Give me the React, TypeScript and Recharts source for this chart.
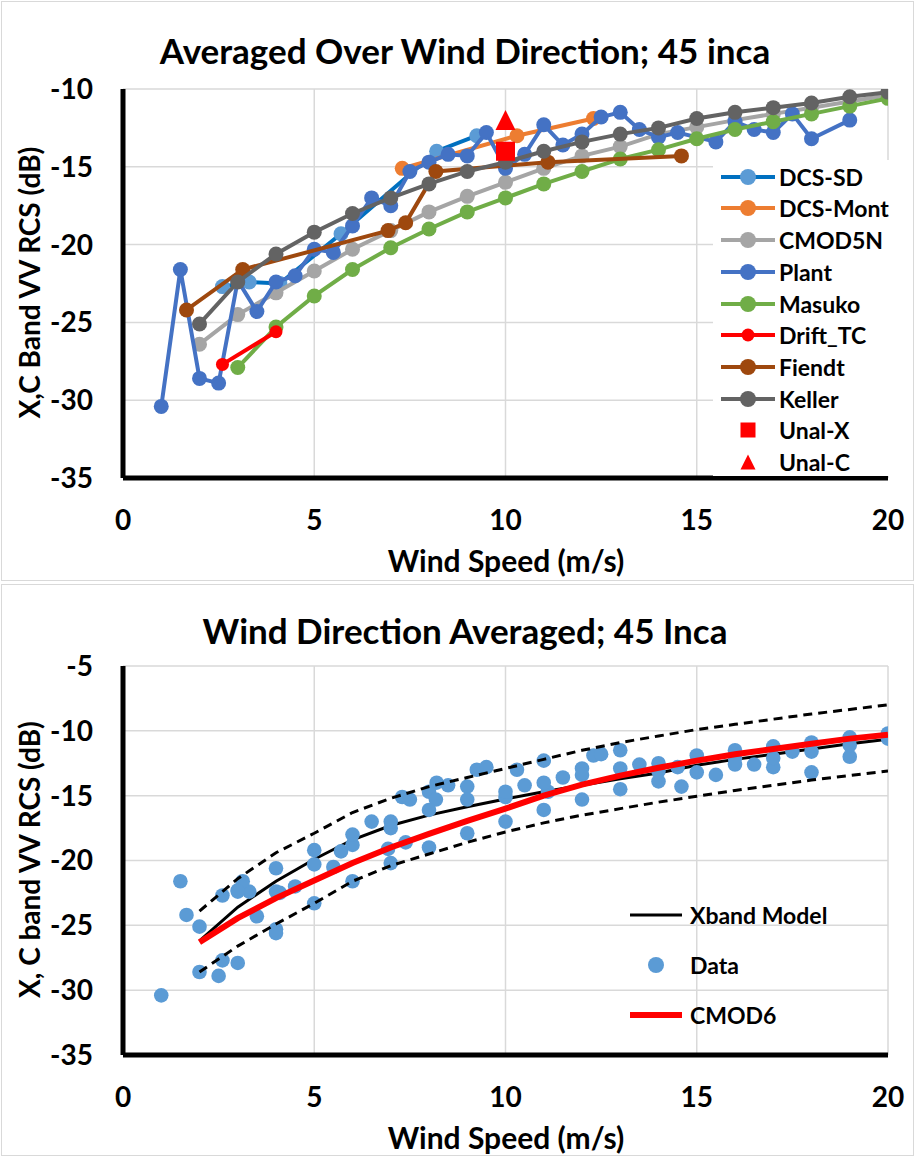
import React from 'react';
import { ScatterChart, Scatter, XAxis, YAxis, CartesianGrid } from 'recharts';

type Pt = [number, number];

// wind speed (m/s), VV RCS (dB)
const dcsSd: Pt[] = [[2.6, -22.7], [3.3, -22.4], [4.1, -22.5], [5.7, -19.3], [8.2, -14.0], [9.25, -13.0]];
const dcsMont: Pt[] = [[7.3, -15.1], [10.3, -13.0], [12.3, -11.9]];
const cmod5n: Pt[] = [
  [2, -26.4], [3, -24.5], [4, -23.1], [5, -21.7], [6, -20.3], [7, -19.1], [8, -17.9], [9, -16.9], [10, -16.0],
  [11, -15.1], [12, -14.3], [13, -13.7], [14, -12.9], [15, -12.45], [16, -12.0], [17, -11.6], [18, -11.2], [19, -10.8], [20, -10.4]
];
const plant: Pt[] = [
  [1, -30.4], [1.5, -21.6], [2, -28.6], [2.5, -28.9], [3, -22.3], [3.5, -24.3], [4, -22.4], [4.5, -22.0], [5, -20.3],
  [5.5, -20.5], [6, -18.8], [6.5, -17.0], [7, -17.5], [7.5, -15.3], [8, -14.7], [8.5, -14.2], [9, -14.3], [9.5, -12.8],
  [10, -15.1], [10.5, -14.2], [11, -12.3], [11.5, -13.6], [12, -12.9], [12.5, -11.8], [13, -11.5], [13.5, -12.6],
  [14, -13.1], [14.5, -12.8], [15.5, -13.4], [16, -12.1], [16.5, -12.6], [17, -12.8], [17.5, -11.6], [18, -13.2], [19, -12.0]
];
const masuko: Pt[] = [
  [3, -27.9], [4, -25.3], [5, -23.3], [6, -21.6], [7, -20.2], [8, -19.0], [9, -17.9], [10, -17.0], [11, -16.1],
  [12, -15.3], [13, -14.5], [14, -13.9], [15, -13.2], [16, -12.6], [17, -12.1], [18, -11.6], [19, -11.1], [20, -10.6]
];
const driftTc: Pt[] = [[2.6, -27.7], [4, -25.6]];
const fiendt: Pt[] = [[1.66, -24.2], [3.13, -21.6], [6.93, -19.1], [7.39, -18.6], [8.18, -15.3], [11.11, -14.7], [14.6, -14.3]];
const keller: Pt[] = [
  [2, -25.1], [3, -22.4], [4, -20.6], [5, -19.2], [6, -18.0], [7, -17.0], [8, -16.1], [9, -15.3], [10, -14.7], [11, -14.0],
  [12, -13.4], [13, -12.9], [14, -12.5], [15, -11.9], [16, -11.5], [17, -11.2], [18, -10.9], [19, -10.5], [20, -10.2]
];
const unalX: Pt[] = [[10, -14.0]];
const unalC: Pt[] = [[10, -12.0]];

// models for the lower panel
const xbandModel: Pt[] = [
  [2, -26.2], [3, -23.6], [4, -21.6], [5, -19.9], [6, -18.4], [7, -17.3], [8, -16.5], [9, -15.85], [10, -15.25], [11, -14.7],
  [12, -14.2], [13, -13.7], [14, -13.25], [15, -12.65], [16, -12.2], [17, -11.8], [18, -11.4], [19, -11.0], [20, -10.65]
];
const cmod6: Pt[] = [
  [2, -26.3], [3, -24.45], [4, -22.9], [5, -21.55], [6, -20.2], [7, -19.0], [8, -17.95], [9, -16.95], [10, -16.0], [11, -15.0],
  [12, -14.15], [13, -13.45], [14, -12.85], [15, -12.3], [16, -11.8], [17, -11.4], [18, -11.0], [19, -10.6], [20, -10.3]
];
const upperBound: Pt[] = [
  [2, -23.9], [3, -21.4], [4, -19.4], [5, -17.9], [6, -16.3], [7, -15.2], [8, -14.3], [9, -13.6], [10, -12.9], [11, -12.2],
  [12, -11.5], [13, -10.9], [14, -10.4], [15, -9.9], [16, -9.5], [17, -9.1], [18, -8.7], [19, -8.35], [20, -8.0]
];
const lowerBound: Pt[] = [
  [2, -28.6], [3, -26.6], [4, -24.9], [5, -23.3], [6, -21.6], [7, -20.4], [8, -19.5], [9, -18.6], [10, -17.8], [11, -17.1],
  [12, -16.5], [13, -16.0], [14, -15.5], [15, -15.05], [16, -14.6], [17, -14.2], [18, -13.8], [19, -13.45], [20, -13.1]
];

const xTicks = [0, 5, 10, 15, 20];
const yTicksTop = [-35, -30, -25, -20, -15, -10];
const yTicksBottom = [-35, -30, -25, -20, -15, -10, -5];

const FONT = 'Lato, "Open Sans", sans-serif';
const GRID = '#D9D9D9';

const toXY = (pts: Pt[]) => pts.map(([x, y]) => ({ x, y }));

type Marker = 'circle' | 'square' | 'triangle';
interface SeriesDef {
  name: string;
  data: Pt[];
  lineColor?: string;
  markColor: string;
  r: number;
  marker: Marker;
}

const topSeries: SeriesDef[] = [
  { name: 'DCS-SD', data: dcsSd, lineColor: '#0070C0', markColor: '#5B9BD5', r: 7.5, marker: 'circle' },
  { name: 'DCS-Mont', data: dcsMont, lineColor: '#ED7D31', markColor: '#ED7D31', r: 7.5, marker: 'circle' },
  { name: 'CMOD5N', data: cmod5n, lineColor: '#A5A5A5', markColor: '#A5A5A5', r: 7.5, marker: 'circle' },
  { name: 'Plant', data: plant, lineColor: '#4472C4', markColor: '#4472C4', r: 7.5, marker: 'circle' },
  { name: 'Masuko', data: masuko, lineColor: '#70AD47', markColor: '#70AD47', r: 7.5, marker: 'circle' },
  { name: 'Drift_TC', data: driftTc, lineColor: '#FF0000', markColor: '#FF0000', r: 6.5, marker: 'circle' },
  { name: 'Fiendt', data: fiendt, lineColor: '#9E480E', markColor: '#9E480E', r: 7.5, marker: 'circle' },
  { name: 'Keller', data: keller, lineColor: '#636363', markColor: '#636363', r: 7.5, marker: 'circle' },
  { name: 'Unal-X', data: unalX, markColor: '#FF0000', r: 9.5, marker: 'square' },
  { name: 'Unal-C', data: unalC, markColor: '#FF0000', r: 10, marker: 'triangle' },
];

// every measurement set shown as blue dots in the lower panel
const allData: Pt[] = [...dcsSd, ...dcsMont, ...plant, ...masuko, ...driftTc, ...fiendt, ...keller];

const drawMarker = (kind: Marker, color: string, r: number, cx: number, cy: number) => {
  if (kind === 'square') return <rect x={cx - r} y={cy - r} width={r * 2} height={r * 2} fill={color} />;
  if (kind === 'triangle')
    return <polygon points={`${cx},${cy - r} ${cx + r},${cy + r} ${cx - r},${cy + r}`} fill={color} />;
  return <circle cx={cx} cy={cy} r={r} fill={color} />;
};

const shapeFor = (kind: Marker, color: string, r: number) => (p: any) => drawMarker(kind, color, r, p.cx, p.cy);
const noShape = () => <g />;

const tickStyle = { fill: '#000', fontFamily: FONT, fontWeight: 700, fontSize: 28 };
const textStyle: React.CSSProperties = { position: 'absolute', fontFamily: FONT, fontWeight: 700, color: '#000', whiteSpace: 'nowrap' };

function Frame({ top, height }: { top: number; height: number }) {
  return <div style={{ position: 'absolute', left: 1, top, width: 911, height, border: `1.5px solid ${GRID}` }} />;
}

function CenterText({ text, cx, cy, size, rotate }: { text: string; cx: number; cy: number; size: number; rotate?: boolean }) {
  const w = 700;
  const h = size * 1.4;
  return (
    <div
      style={{
        ...textStyle,
        left: cx - w / 2,
        top: cy - h / 2,
        width: w,
        height: h,
        lineHeight: `${h}px`,
        fontSize: size,
        textAlign: 'center',
        transform: rotate ? 'rotate(-90deg)' : undefined,
      }}
    >
      {text}
    </div>
  );
}

const chartMargin = { top: 89, right: 27, bottom: 42, left: 43 };

export default function App() {
  return (
    <div style={{ position: 'absolute', left: 0, top: 0, width: 915, height: 1157, background: '#fff', overflow: 'hidden' }}>
      <Frame top={1} height={578} />
      <Frame top={584} height={570} />

      {/* upper panel */}
      <div style={{ position: 'absolute', left: 0, top: 0 }}>
        <ScatterChart width={915} height={580} margin={chartMargin}>
          <CartesianGrid stroke={GRID} strokeWidth={1.5} />
          <XAxis type="number" dataKey="x" domain={[0, 20]} ticks={xTicks} allowDataOverflow height={60}
            axisLine={{ stroke: '#000', strokeWidth: 5 }} tickLine={false} tickSize={0} tickMargin={32} tick={tickStyle} />
          <YAxis type="number" dataKey="y" domain={[-35, -10]} ticks={yTicksTop} allowDataOverflow width={80}
            axisLine={{ stroke: '#000', strokeWidth: 5 }} tickLine={false} tickSize={0} tickMargin={30} tick={tickStyle} />
          {topSeries.map((s) => (
            <Scatter
              key={s.name}
              name={s.name}
              data={toXY(s.data)}
              isAnimationActive={false}
              line={s.lineColor ? { stroke: s.lineColor, strokeWidth: 4 } : false}
              lineType="joint"
              shape={shapeFor(s.marker, s.markColor, s.r)}
            />
          ))}
        </ScatterChart>
      </div>

      {/* upper legend */}
      <div style={{ position: 'absolute', left: 713, top: 160, width: 176, height: 316, background: '#fff' }}>
        {topSeries.map((s, i) => (
          <div key={s.name} style={{ position: 'absolute', left: 0, top: 0.7 + i * 31.7, height: 32, display: 'flex', alignItems: 'center', whiteSpace: 'nowrap' }}>
            <svg width={64} height={32}>
              {s.lineColor && <line x1={8} y1={16} x2={62} y2={16} stroke={s.lineColor} strokeWidth={4} />}
              {drawMarker(s.marker, s.markColor, s.marker === 'circle' ? (s.r === 7.5 ? 8 : 6.5) : 7.5, 35, 16)}
            </svg>
            <span style={{ fontFamily: FONT, fontWeight: 700, fontSize: 23, marginLeft: 2 }}>{s.name}</span>
          </div>
        ))}
      </div>

      <CenterText text="Averaged Over Wind Direction; 45 inca" cx={465} cy={50} size={35} />
      <CenterText text="X,C Band VV RCS (dB)" cx={30} cy={283} size={28} rotate />
      <CenterText text="Wind Speed (m/s)" cx={506} cy={560} size={30} />

      {/* lower panel */}
      <div style={{ position: 'absolute', left: 0, top: 577 }}>
        <ScatterChart width={915} height={580} margin={chartMargin}>
          <CartesianGrid stroke={GRID} strokeWidth={1.5} />
          <XAxis type="number" dataKey="x" domain={[0, 20]} ticks={xTicks} allowDataOverflow height={60}
            axisLine={{ stroke: '#000', strokeWidth: 5 }} tickLine={false} tickSize={0} tickMargin={32} tick={tickStyle} />
          <YAxis type="number" dataKey="y" domain={[-35, -5]} ticks={yTicksBottom} allowDataOverflow width={80}
            axisLine={{ stroke: '#000', strokeWidth: 5 }} tickLine={false} tickSize={0} tickMargin={30} tick={tickStyle} />
          <Scatter name="Xband Model" data={toXY(xbandModel)} isAnimationActive={false}
            line={{ stroke: '#000', strokeWidth: 3 }} lineType="joint" shape={noShape} />
          <Scatter name="Data" data={toXY(allData)} isAnimationActive={false}
            shape={shapeFor('circle', '#5B9BD5', 7.3)} />
          <Scatter name="CMOD6" data={toXY(cmod6)} isAnimationActive={false}
            line={{ stroke: '#FF0000', strokeWidth: 6 }} lineType="joint" shape={noShape} />
          <Scatter name="upper" data={toXY(upperBound)} isAnimationActive={false}
            line={{ stroke: '#000', strokeWidth: 3, strokeDasharray: '9 6' }} lineType="joint" shape={noShape} />
          <Scatter name="lower" data={toXY(lowerBound)} isAnimationActive={false}
            line={{ stroke: '#000', strokeWidth: 3, strokeDasharray: '9 6' }} lineType="joint" shape={noShape} />
        </ScatterChart>
      </div>

      {/* lower legend */}
      <div style={{ position: 'absolute', left: 620, top: 890, width: 230, height: 150 }}>
        {[
          { name: 'Xband Model', kind: 'line', color: '#000', w: 3 },
          { name: 'Data', kind: 'dot', color: '#5B9BD5', w: 0 },
          { name: 'CMOD6', kind: 'line', color: '#FF0000', w: 6 },
        ].map((e, i) => (
          <div key={e.name} style={{ position: 'absolute', left: 0, top: 9 + i * 50, height: 32, display: 'flex', alignItems: 'center', whiteSpace: 'nowrap' }}>
            <svg width={68} height={32}>
              {e.kind === 'line' ? (
                <line x1={10} y1={16} x2={62} y2={16} stroke={e.color} strokeWidth={e.w} />
              ) : (
                <circle cx={36} cy={16} r={8} fill={e.color} />
              )}
            </svg>
            <span style={{ fontFamily: FONT, fontWeight: 700, fontSize: 23, marginLeft: 2 }}>{e.name}</span>
          </div>
        ))}
      </div>

      <CenterText text="Wind Direction Averaged; 45 Inca" cx={465} cy={630} size={35} />
      <CenterText text="X, C band VV RCS (dB)" cx={30} cy={860} size={28} rotate />
      <CenterText text="Wind Speed (m/s)" cx={506} cy={1137} size={30} />
    </div>
  );
}
